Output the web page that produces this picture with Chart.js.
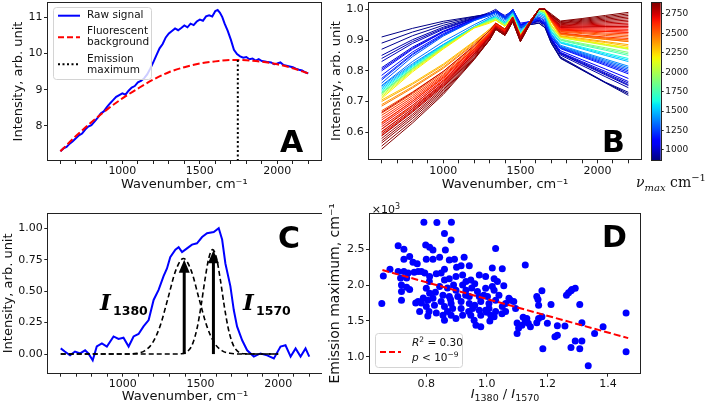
<!DOCTYPE html>
<html>
<head>
<meta charset="utf-8">
<script src="https://cdn.jsdelivr.net/npm/chart.js@4.4.1/dist/chart.umd.min.js"></script>
<style>
  html, body { margin: 0; padding: 0; background: #fff; }
  #wrap { position: relative; width: 708px; height: 407px; overflow: hidden; }
  canvas { position: absolute; }
  #cbLabel { position: absolute; left: 636px; top: 172px; font-family: "DejaVu Serif", serif; font-size: 14px; color: #111; white-space: nowrap; }
  #cbLabel sub { font-size: 10px; }
  #cbLabel sup { font-size: 10px; }
</style>
</head>
<body>
<div id="wrap">
  <canvas id="chartA" width="322" height="200" style="left:0;top:0"></canvas>
  <canvas id="chartB" width="322" height="200" style="left:322px;top:0"></canvas>
  <canvas id="chartCb" width="64" height="200" style="left:644px;top:0"></canvas>
  <canvas id="chartC" width="322" height="207" style="left:0;top:200px"></canvas>
  <canvas id="chartD" width="322" height="207" style="left:322px;top:200px"></canvas>
  <div id="cbLabel"><i>ν<sub>max</sub></i> cm<sup>−1</sup></div>
</div>
<script>
// ---- shared ticks
const wnTicks = [600, 700, 800, 900, 1000, 1100, 1200, 1300, 1400, 1500, 1600, 1700, 1800, 1900, 2000, 2100, 2200]
const wnLabels = [1000, 1500, 2000]

// ---- panel A: raw signal, fluorescent background, emission maximum
const aWn = [600, 620, 640, 660, 680, 700, 720, 740, 760, 780, 800, 820, 840, 860, 880, 900, 920, 940, 960, 980,
  1000, 1020, 1040, 1060, 1080, 1100, 1120, 1140, 1160, 1180, 1200, 1220, 1240, 1260, 1280, 1300, 1320, 1340, 1360, 1380,
  1400, 1420, 1440, 1460, 1480, 1500, 1520, 1540, 1560, 1580, 1600, 1615, 1630, 1645, 1660, 1680, 1700, 1720, 1740, 1760,
  1780, 1800, 1820, 1840, 1860, 1880, 1900, 1920, 1940, 1960, 1980, 2000, 2020, 2040, 2060, 2080, 2100, 2120, 2140, 2160, 2180, 2200]
const aRaw = [7.30, 7.38, 7.42, 7.51, 7.58, 7.66, 7.74, 7.79, 7.90, 7.98, 8.02, 8.12, 8.22, 8.34, 8.40, 8.52, 8.62, 8.71, 8.80, 8.85,
  8.90, 8.86, 8.97, 9.06, 9.10, 9.20, 9.24, 9.31, 9.42, 9.58, 9.76, 9.95, 10.14, 10.26, 10.44, 10.55, 10.62, 10.69, 10.64, 10.70,
  10.77, 10.72, 10.82, 10.78, 10.88, 10.93, 10.90, 11.02, 11.05, 11.02, 11.17, 11.20, 11.12, 11.00, 10.82, 10.62, 10.38, 10.10, 9.98, 9.92,
  9.88, 9.90, 9.84, 9.86, 9.80, 9.84, 9.79, 9.78, 9.76, 9.75, 9.70, 9.72, 9.75, 9.68, 9.66, 9.64, 9.62, 9.58, 9.55, 9.53, 9.48, 9.45]
const aBgWn = [600, 700, 800, 900, 1000, 1100, 1200, 1300, 1400, 1500, 1600, 1700, 1750, 1800, 1900, 2000, 2100, 2200]
const aBg = [7.30, 7.72, 8.10, 8.45, 8.76, 9.03, 9.28, 9.48, 9.62, 9.72, 9.78, 9.82, 9.82, 9.81, 9.77, 9.70, 9.59, 9.45]
const aPeakWn = [1745, 1745]
const aPeakVal = [9.82, 7.0]
const aYTicks = [8, 9, 10, 11]

// ---- panel B: normalised spectra coloured by emission maximum
const bWn = [600, 800, 1000, 1200, 1300, 1340, 1400, 1450, 1500, 1560, 1620, 1660, 1700, 1760, 1900, 2050, 2200]
const bNuMax = [880, 900, 940, 980, 1020, 1080, 1150, 1220, 1300,
  1400, 1500, 1620, 1750, 1900, 2050, 2200,
  2350, 2450, 2520, 2580, 2640, 2700, 2750, 2800, 2840, 2870, 2890, 2600, 2480, 2780,
  890, 960, 1050, 1180, 1350, 1560, 1820, 2120,
  2300, 2400, 2550, 2620, 2680, 2730, 2770, 2820, 2860, 2880, 2500, 2650]
const bCurves = [
  [.91, .938, .961, .977, .985, .99, .97, 1.0, .945, .95, .955, .94, .89, .84, .802, .761, .72],
  [.87, .914, .948, .974, .985, .995, .975, .995, .94, .955, .96, .945, .895, .845, .805, .763, .73],
  [.85, .901, .942, .972, .99, 1.0, .975, .99, .95, .95, .965, .955, .90, .851, .817, .781, .745],
  [.83, .889, .935, .970, .985, .99, .97, 1.0, .945, .96, .97, .95, .90, .858, .827, .793, .76],
  [.81, .877, .929, .968, .985, .995, .98, .995, .95, .955, .96, .95, .905, .856, .824, .79, .755],
  [.80, .870, .926, .967, .985, .99, .975, 1.0, .955, .96, .97, .955, .905, .865, .836, .806, .775],
  [.785, .861, .921, .965, .98, .99, .97, .995, .95, .96, .975, .96, .91, .872, .846, .818, .79],
  [.77, .852, .916, .964, .985, .995, .975, 1.0, .945, .955, .97, .955, .91, .876, .852, .826, .80],
  [.76, .846, .913, .963, .98, .99, .97, .995, .94, .96, .975, .965, .915, .878, .855, .83, .805],
  [.75, .823, .886, .944, .97, .98, .96, .99, .93, .96, .985, .975, .92, .883, .861, .838, .815],
  [.745, .819, .885, .943, .97, .975, .955, .985, .925, .955, .99, .98, .925, .89, .871, .85, .83],
  [.735, .813, .881, .942, .965, .975, .955, .985, .925, .96, .99, .98, .93, .894, .877, .858, .84],
  [.73, .809, .879, .941, .965, .97, .95, .98, .92, .96, .995, .985, .935, .899, .883, .867, .85],
  [.725, .806, .877, .941, .96, .97, .95, .98, .92, .955, .995, .99, .94, .903, .889, .875, .86],
  [.72, .803, .875, .94, .96, .965, .945, .975, .915, .96, 1.0, .99, .945, .908, .896, .883, .87],
  [.71, .796, .871, .939, .955, .965, .945, .975, .915, .96, 1.0, .995, .95, .91, .899, .887, .875],
  [.70, .756, .818, .893, .935, .955, .935, .975, .915, .96, 1.0, 1.0, .96, .914, .905, .895, .885],
  [.685, .744, .808, .886, .93, .955, .935, .975, .91, .96, 1.0, 1.0, .965, .921, .914, .907, .90],
  [.67, .731, .798, .879, .925, .95, .93, .97, .915, .955, 1.0, 1.0, .965, .926, .921, .915, .91],
  [.655, .719, .788, .872, .92, .95, .93, .975, .91, .96, 1.0, 1.0, .97, .93, .927, .923, .92],
  [.64, .707, .78, .87, .92, .95, .93, .97, .91, .955, 1.0, 1.0, .97, .935, .933, .932, .93],
  [.625, .695, .77, .863, .915, .945, .925, .97, .905, .955, 1.0, 1.0, .97, .939, .939, .94, .94],
  [.61, .682, .76, .856, .91, .945, .925, .97, .905, .96, 1.0, 1.0, .975, .944, .946, .948, .95],
  [.595, .671, .753, .853, .91, .94, .92, .965, .90, .955, 1.0, 1.0, .975, .948, .952, .956, .96],
  [.58, .658, .743, .847, .905, .94, .92, .965, .90, .955, 1.0, 1.0, .98, .953, .958, .964, .97],
  [.565, .645, .733, .84, .90, .935, .915, .96, .895, .95, 1.0, 1.0, .98, .957, .964, .972, .98],
  [.545, .63, .723, .836, .90, .935, .915, .96, .895, .95, 1.0, 1.0, .985, .962, .97, .98, .99],
  [.60, .677, .76, .862, .92, .95, .93, .97, .91, .96, 1.0, 1.0, .965, .923, .916, .91, .905],
  [.63, .701, .778, .872, .925, .955, .935, .975, .915, .96, 1.0, 1.0, .965, .919, .911, .903, .895],
  [.665, .729, .798, .882, .93, .955, .935, .975, .91, .96, 1.0, 1.0, .975, .941, .942, .944, .945],
  [.89, .926, .955, .976, .985, .995, .97, .995, .94, .95, .955, .94, .89, .842, .803, .762, .725],
  [.84, .895, .938, .971, .985, .99, .975, 1.0, .95, .955, .965, .95, .90, .855, .822, .787, .752],
  [.805, .873, .927, .967, .985, .99, .975, .995, .95, .96, .965, .95, .905, .86, .83, .798, .765],
  [.775, .855, .918, .964, .985, .99, .97, 1.0, .945, .955, .97, .955, .91, .874, .849, .822, .795],
  [.752, .83, .895, .95, .975, .985, .965, .99, .935, .96, .98, .97, .918, .88, .858, .834, .81],
  [.74, .816, .883, .942, .968, .975, .955, .985, .925, .958, .99, .98, .928, .892, .874, .854, .835],
  [.727, .807, .878, .941, .962, .97, .95, .98, .92, .958, .995, .988, .938, .901, .886, .871, .855],
  [.715, .80, .873, .94, .958, .965, .945, .975, .915, .96, 1.0, .992, .948, .909, .897, .885, .872],
  [.705, .76, .822, .896, .935, .955, .935, .975, .915, .96, 1.0, 1.0, .96, .912, .902, .892, .88],
  [.69, .748, .812, .889, .93, .955, .935, .975, .91, .96, 1.0, 1.0, .962, .918, .91, .902, .895],
  [.662, .725, .793, .876, .922, .95, .93, .972, .912, .958, 1.0, 1.0, .967, .928, .924, .919, .915],
  [.647, .713, .784, .871, .92, .95, .93, .972, .91, .958, 1.0, 1.0, .97, .932, .93, .928, .925],
  [.632, .701, .775, .866, .918, .948, .928, .97, .908, .955, 1.0, 1.0, .97, .937, .936, .936, .935],
  [.618, .688, .765, .86, .912, .945, .925, .97, .905, .958, 1.0, 1.0, .972, .942, .943, .944, .945],
  [.602, .676, .756, .855, .91, .942, .922, .968, .902, .955, 1.0, 1.0, .975, .946, .949, .952, .955],
  [.588, .665, .748, .85, .908, .94, .92, .965, .90, .955, 1.0, 1.0, .978, .95, .955, .96, .965],
  [.572, .652, .738, .843, .902, .938, .918, .962, .898, .952, 1.0, 1.0, .98, .955, .961, .968, .975],
  [.555, .637, .728, .838, .90, .935, .915, .96, .895, .95, 1.0, 1.0, .982, .96, .967, .976, .985],
  [.61, .687, .768, .866, .922, .952, .932, .972, .912, .96, 1.0, 1.0, .965, .921, .913, .906, .90],
  [.59, .668, .752, .856, .915, .948, .928, .97, .908, .958, 1.0, 1.0, .97, .933, .93, .928, .925]
]
const bYTicks = [0.6, 0.7, 0.8, 0.9, 1.0]
const cbTicks = [1000, 1250, 1500, 1750, 2000, 2250, 2500, 2750]
const cbMin = 870, cbMax = 2895

// ---- panel C: background-subtracted signal and two gaussian bands
const cWn = [600, 626, 660, 692, 725, 757, 778, 806, 832, 865, 897, 940, 972, 1004, 1037, 1069, 1101, 1133, 1166, 1198,
  1230, 1262, 1284, 1305, 1338, 1359, 1381, 1413, 1445, 1477, 1510, 1542, 1585, 1617, 1639, 1660, 1692, 1714, 1735, 1768,
  1800, 1843, 1886, 1929, 1972, 2015, 2047, 2080, 2112, 2144, 2176, 2200]
const cSig = [0.045, 0.02, -0.01, 0.02, 0.005, 0.03, 0.005, -0.05, 0.06, 0.085, 0.06, 0.14, 0.12, 0.13, 0.06, 0.14, 0.16, 0.22, 0.27, 0.43,
  0.51, 0.62, 0.68, 0.77, 0.83, 0.85, 0.81, 0.84, 0.87, 0.88, 0.93, 0.96, 0.97, 1.00, 0.91, 0.72, 0.54, 0.35, 0.22, 0.11,
  0.03, -0.02, 0.005, -0.01, -0.035, 0.06, 0.07, -0.02, 0.045, -0.02, 0.045, -0.02]
const cG1Wn = [600, 1000, 1090, 1140, 1190, 1240, 1290, 1340, 1390, 1440, 1490, 1540, 1590, 1640, 1690, 1790, 2000]
const cG1 = [0, 0, 0.006, 0.026, 0.087, 0.224, 0.442, 0.663, 0.76, 0.663, 0.442, 0.224, 0.087, 0.026, 0.006, 0, 0]
const cG2Wn = [600, 1300, 1378, 1428, 1453, 1478, 1503, 1528, 1553, 1578, 1603, 1628, 1653, 1678, 1703, 1728, 1778, 2000]
const cG2 = [0, 0, 0.003, 0.036, 0.095, 0.207, 0.380, 0.587, 0.761, 0.83, 0.761, 0.587, 0.380, 0.207, 0.095, 0.036, 0.003, 0]
const cArrowWn = [1395, 1583]
const cArrowTop = [0.75, 0.825]
const cYTicks = [0, 0.25, 0.5, 0.75, 1.0]

// ---- panel D: emission maximum vs band ratio
const dRatio = [
  0.653, 0.658, 0.707, 0.726, 0.745, 0.726, 0.756, 0.792, 0.835, 0.883,
  0.860, 0.882, 0.863, 0.798, 0.811, 0.822, 0.800, 0.822, 0.844, 0.876,
  0.893, 0.925, 0.915, 0.942, 1.029, 1.127, 1.051, 1.018, 0.680, 0.707,
  0.726, 0.740, 0.735, 0.715, 0.773, 0.784, 0.795, 0.811, 0.833, 0.849,
  0.860, 0.876, 0.898, 0.920, 0.931, 0.947, 0.975, 0.996, 1.024, 1.018,
  1.035, 1.056, 0.718, 0.718, 0.735, 0.745, 0.718, 0.773, 0.765, 0.784,
  0.778, 0.800, 0.811, 0.805, 0.800, 0.809, 0.805, 0.822, 0.827, 0.833,
  0.844, 0.855, 0.849, 0.860, 0.855, 0.860, 0.876, 0.882, 0.887, 0.882,
  0.898, 0.898, 0.904, 0.915, 0.915, 0.920, 0.931, 0.942, 0.942, 0.953,
  0.947, 0.958, 0.964, 0.969, 0.975, 0.980, 0.975, 0.980, 0.980, 0.996,
  1.002, 1.007, 0.996, 1.013, 1.007, 1.024, 1.029, 1.040, 1.029, 1.024,
  1.051, 1.062, 1.073, 1.078, 1.089, 1.095, 1.062, 1.105, 1.100, 1.116,
  1.127, 1.137, 1.132, 1.144, 1.165, 1.171, 1.165, 1.169, 1.171, 1.182,
  1.182, 1.200, 1.212, 1.233, 1.225, 1.233, 1.185, 1.258, 1.263, 1.270,
  1.278, 1.281, 1.292, 1.278, 1.292, 1.314, 1.307, 1.307, 1.314, 1.335,
  1.356, 1.384, 1.460, 1.460,
  0.870, 0.890, 0.950, 0.920, 0.960, 0.940, 0.990, 1.010, 0.870, 0.830,
  0.790, 0.810, 0.860, 0.900, 0.960, 0.770, 0.760, 0.880, 0.930, 1.000,
  1.050, 1.100, 1.120]
const dEmission = [
  1745, 2127, 2551, 2500, 2400, 2360, 2320, 2877, 2873, 2877,
  2720, 2630, 2490, 2560, 2530, 2490, 2360, 2360, 2390, 2350,
  2360, 2390, 2270, 2270, 2510, 2280, 2230, 2240, 2220, 2190,
  2190, 2170, 2100, 2100, 2190, 2190, 2170, 2120, 2160, 2170,
  2070, 2090, 2120, 2140, 2050, 2070, 2140, 2120, 2090, 1980,
  2050, 1990, 2000, 1910, 1970, 1940, 1790, 1770, 1750, 1750,
  1630, 1955, 1885, 1790, 1700, 1630, 1570, 1815, 1720, 1610,
  1980, 1860, 1770, 1700, 1580, 1510, 1840, 1745, 1675, 1580,
  1535, 1930, 1840, 1770, 1675, 1580, 1930, 1840, 1745, 1675,
  1580, 1510, 1440, 1910, 1840, 1770, 1650, 1580, 1420, 1955,
  1840, 1745, 1650, 1580, 1675, 1930, 1790, 1860, 1630, 1560,
  1700, 1745, 1815, 1790, 1770, 1675, 1630, 1400, 1326, 1440,
  1490, 1466, 1535, 1420, 1476, 1535, 1840, 1800, 1720, 1920,
  1560, 1466, 1730, 1433, 1280, 1300, 1110, 1430, 1860, 1895,
  1920, 1940, 1955, 1130, 1220, 1476, 1730, 1110, 1220, 875,
  1326, 1420, 1610, 1070,
  1960, 2000, 1960, 2000, 1720, 1630, 1860, 1500, 1630, 1900,
  1820, 2050, 2220, 2250, 2020, 2300, 2180, 1800, 1860, 1620,
  1600, 1470, 1550]
const dFitRatio = [0.655, 1.467]
const dFit = [2210, 1260]
const dXTicks = [0.8, 1.0, 1.2, 1.4]
const dYTicks = [1000, 1500, 2000, 2500]

Chart.defaults.font.family = '"DejaVu Sans", sans-serif'
Chart.defaults.font.size = 11
Chart.defaults.color = '#111'
Chart.defaults.animation = false
Chart.defaults.responsive = false
Chart.defaults.plugins.legend.display = false
Chart.defaults.plugins.tooltip.enabled = false

const pts = (xs, ys) => xs.map((x, i) => ({ x, y: ys[i] }))

// matplotlib "jet"
function jet(t) {
  t = Math.min(1, Math.max(0, t))
  const seg = p => {
    for (let i = 1; i < p.length; i++) {
      if (t <= p[i][0]) return p[i - 1][1] + (p[i][1] - p[i - 1][1]) * (t - p[i - 1][0]) / (p[i][0] - p[i - 1][0])
    }
    return p[p.length - 1][1]
  }
  const r = seg([[0, 0], [0.35, 0], [0.66, 1], [0.89, 1], [1, 0.5]])
  const g = seg([[0, 0], [0.125, 0], [0.375, 1], [0.64, 1], [0.91, 0], [1, 0]])
  const b = seg([[0, 0.5], [0.11, 1], [0.34, 1], [0.65, 0], [1, 0]])
  return `rgb(${Math.round(r * 255)},${Math.round(g * 255)},${Math.round(b * 255)})`
}

function axis(o) {
  return {
    type: 'linear', min: o.min, max: o.max, position: o.position,
    afterBuildTicks: s => { s.ticks = o.ticks.map(v => ({ value: v })) },
    afterFit: s => {
      if (s.isHorizontal()) s.height = o.size; else s.width = o.size
      s.paddingLeft = s.paddingRight = s.paddingTop = s.paddingBottom = 0
    },
    ticks: { autoSkip: false, maxRotation: 0, padding: o.pad ?? 2, font: { size: o.fontSize || 11 }, color: '#111', callback: o.fmt },
    grid: { drawOnChartArea: false, drawTicks: true, tickLength: o.tickLength || 4, tickColor: '#222', lineWidth: 1 },
    border: { display: false },
    title: o.title ? { display: true, text: o.title, font: { size: o.titleSize || 13 }, color: '#111', padding: o.titlePad } : { display: false }
  }
}
const wnFmt = v => wnLabels.includes(v) ? String(v) : ''

const frame = {
  id: 'frame',
  afterDraw(chart) {
    const { ctx, chartArea: a } = chart
    ctx.save()
    ctx.strokeStyle = '#222'
    ctx.lineWidth = 1
    const l = Math.round(a.left) - 0.5, t = Math.round(a.top) - 0.5
    ctx.strokeRect(l, t, Math.round(a.right) - Math.round(a.left) + 1, Math.round(a.bottom) - Math.round(a.top) + 1)
    ctx.restore()
  }
}
function letter(txt, x, y) {
  return {
    id: 'letter' + txt,
    afterDraw(chart) {
      const ctx = chart.ctx
      ctx.save()
      ctx.font = 'bold 30px "DejaVu Sans"'
      ctx.fillStyle = '#000'
      ctx.textBaseline = 'alphabetic'
      ctx.fillText(txt, x, y)
      ctx.restore()
    }
  }
}
function legendBox(ctx, x, y, w, h) {
  ctx.beginPath()
  ctx.roundRect(x, y, w, h, 3)
  ctx.fillStyle = 'rgba(255,255,255,0.8)'
  ctx.fill()
  ctx.strokeStyle = '#d4d4d4'
  ctx.lineWidth = 1
  ctx.stroke()
}
function sample(ctx, x0, x1, y, color, dash, width) {
  ctx.beginPath()
  ctx.setLineDash(dash)
  ctx.strokeStyle = color
  ctx.lineWidth = width
  ctx.moveTo(x0, y)
  ctx.lineTo(x1, y)
  ctx.stroke()
  ctx.setLineDash([])
}

const legendA = {
  id: 'legendA',
  afterDraw(chart) {
    const ctx = chart.ctx
    ctx.save()
    legendBox(ctx, 53.5, 7.5, 98, 72)
    sample(ctx, 58, 80, 15.7, '#0000ff', [], 2)
    sample(ctx, 58, 80, 37.3, '#ff0000', [6, 3], 2)
    sample(ctx, 58, 80, 64.3, '#000', [2, 2.5], 2)
    ctx.font = '10.5px "DejaVu Sans"'
    ctx.fillStyle = '#111'
    ctx.textBaseline = 'middle'
    ctx.fillText('Raw signal', 87, 15.7)
    ctx.fillText('Fluorescent', 87, 31.7)
    ctx.fillText('background', 87, 42.7)
    ctx.fillText('Emission', 87, 59)
    ctx.fillText('maximum', 87, 70)
    ctx.restore()
  }
}

new Chart(document.getElementById('chartA'), {
  type: 'line',
  data: { datasets: [
    { data: pts(aWn, aRaw), borderColor: '#0000ff', borderWidth: 2, pointRadius: 0, order: 3 },
    { data: pts(aBgWn, aBg), borderColor: '#ff0000', borderWidth: 2, borderDash: [7, 3], pointRadius: 0, cubicInterpolationMode: 'monotone', order: 2 },
    { data: pts(aPeakWn, aPeakVal), borderColor: '#000', borderWidth: 2, borderDash: [2, 2.5], pointRadius: 0, order: 1 }
  ] },
  options: {
    layout: { padding: { top: 3, right: 1.3, left: 0, bottom: 0 } },
    scales: {
      x: axis({ position: 'bottom', min: 520, max: 2280, ticks: wnTicks, fmt: wnFmt, size: 40, pad: 1, title: 'Wavenumber, cm⁻¹', titlePad: { bottom: 7.5 } }),
      y: axis({ position: 'left', min: 7.06, max: 11.39, ticks: aYTicks, fmt: v => String(v), size: 48, pad: 1.5, title: 'Intensity, arb. unit', titlePad: { top: 10.8 } })
    }
  },
  plugins: [frame, legendA, letter('A', 280, 152)]
})

new Chart(document.getElementById('chartB'), {
  type: 'line',
  data: { datasets: bCurves.map((vals, i) => ({
    data: pts(bWn, vals), borderColor: jet((bNuMax[i] - cbMin) / (cbMax - cbMin)), borderWidth: 1, pointRadius: 0, order: -bNuMax[i]
  })) },
  options: {
    layout: { padding: { top: 2.7, right: 3.3, left: 0, bottom: 0 } },
    scales: {
      x: axis({ position: 'bottom', min: 520, max: 2280, ticks: wnTicks, fmt: wnFmt, size: 40.7, pad: 1, title: 'Wavenumber, cm⁻¹', titlePad: { bottom: 7.5 } }),
      y: axis({ position: 'left', min: 0.512, max: 1.0215, ticks: bYTicks, fmt: v => v.toFixed(1), size: 47.3, pad: 1.5, title: 'Intensity, arb. unit', titlePad: { top: 6.5 } })
    }
  },
  plugins: [frame, letter('B', 280, 152)]
})

const colorbarFill = {
  id: 'colorbarFill',
  beforeDatasetsDraw(chart) {
    const { ctx, chartArea: a } = chart
    const g = ctx.createLinearGradient(0, a.bottom, 0, a.top)
    for (let k = 0; k <= 40; k++) g.addColorStop(k / 40, jet(k / 40))
    ctx.save()
    ctx.fillStyle = g
    ctx.fillRect(a.left, a.top, a.right - a.left, a.bottom - a.top)
    ctx.restore()
  }
}
new Chart(document.getElementById('chartCb'), {
  type: 'line',
  data: { datasets: [] },
  options: {
    layout: { padding: { left: 7.7, top: 2.7, bottom: 40, right: 0 } },
    scales: {
      x: { display: false },
      y: axis({ position: 'right', min: cbMin, max: cbMax, ticks: cbTicks, fmt: v => String(v), size: 47.3, fontSize: 9, tickLength: 3, pad: 1.5 })
    }
  },
  plugins: [colorbarFill, frame]
})

const arrowsC = {
  id: 'arrowsC',
  afterDatasetsDraw(chart) {
    const { ctx, scales: { x, y } } = chart
    ctx.save()
    ctx.fillStyle = '#000'
    ctx.strokeStyle = '#000'
    cArrowWn.forEach((wn, i) => {
      const px = x.getPixelForValue(wn)
      const y0 = y.getPixelForValue(0)
      const y1 = y.getPixelForValue(cArrowTop[i])
      ctx.lineWidth = 3
      ctx.beginPath()
      ctx.moveTo(px, y0)
      ctx.lineTo(px, y1 + 10)
      ctx.stroke()
      ctx.beginPath()
      ctx.moveTo(px, y1)
      ctx.lineTo(px - 5.5, y1 + 13)
      ctx.lineTo(px + 5.5, y1 + 13)
      ctx.closePath()
      ctx.fill()
    })
    ctx.restore()
  }
}
const labelsC = {
  id: 'labelsC',
  afterDraw(chart) {
    const ctx = chart.ctx
    ctx.save()
    ctx.fillStyle = '#000'
    ctx.textBaseline = 'alphabetic'
    ;[[100, '1380'], [243, '1570']].forEach(([x, sub]) => {
      ctx.font = 'italic bold 23px "DejaVu Serif"'
      ctx.fillText('I', x, 110)
      ctx.font = 'bold 12.5px "DejaVu Sans"'
      ctx.fillText(sub, x + 13, 115)
    })
    ctx.restore()
  }
}
new Chart(document.getElementById('chartC'), {
  type: 'line',
  data: { datasets: [
    { data: pts(cWn, cSig), borderColor: '#0000ff', borderWidth: 2, pointRadius: 0, order: 3 },
    { data: pts(cG1Wn, cG1), borderColor: '#000', borderWidth: 1.6, borderDash: [5, 3], pointRadius: 0, cubicInterpolationMode: 'monotone', order: 2 },
    { data: pts(cG2Wn, cG2), borderColor: '#000', borderWidth: 1.6, borderDash: [5, 3], pointRadius: 0, cubicInterpolationMode: 'monotone', order: 1 }
  ] },
  options: {
    layout: { padding: { top: 14, right: 0.3, left: 0, bottom: 0 } },
    scales: {
      x: axis({ position: 'bottom', min: 520, max: 2280, ticks: wnTicks, fmt: wnFmt, size: 34.3, pad: 1, title: 'Wavenumber, cm⁻¹', titlePad: { bottom: 2.5 } }),
      y: axis({ position: 'left', min: -0.148, max: 1.113, ticks: cYTicks, fmt: v => v.toFixed(2), size: 48.3, pad: 1.5, title: 'Intensity, arb. unit', titlePad: { top: 0.8 } })
    }
  },
  plugins: [frame, arrowsC, labelsC, letter('C', 278, 48.3)]
})

const extrasD = {
  id: 'extrasD',
  afterDraw(chart) {
    const ctx = chart.ctx
    ctx.save()
    // legend
    legendBox(ctx, 53.5, 133.5, 87, 34)
    sample(ctx, 58, 79, 152, '#ff0000', [6, 3], 2)
    ctx.fillStyle = '#111'
    ctx.textBaseline = 'alphabetic'
    const run = (parts, x, y) => {
      parts.forEach(([t, font, dy]) => {
        ctx.font = font
        ctx.fillText(t, x, y + (dy || 0))
        x += ctx.measureText(t).width
      })
      return x
    }
    const it = 'italic 10.5px "DejaVu Sans"', rm = '10.5px "DejaVu Sans"', sm = '7.5px "DejaVu Sans"'
    run([['R', it], ['2', sm, -4], [' = 0.30', rm]], 90, 146)
    run([['p', it], [' < 10', rm], ['−9', sm, -4]], 90, 161)
    // offset text
    run([['×10', '11px "DejaVu Sans"'], ['3', '8px "DejaVu Sans"', -4]], 49.7, 13)
    // x title
    const parts = [['I', 'italic 13px "DejaVu Sans"'], ['1380', '9.5px "DejaVu Sans"', 3], [' / ', '13px "DejaVu Sans"'],
      ['I', 'italic 13px "DejaVu Sans"'], ['1570', '9.5px "DejaVu Sans"', 3]]
    let w = 0
    parts.forEach(([t, font]) => { ctx.font = font; w += ctx.measureText(t).width })
    run(parts, 183 - w / 2, 198)
    ctx.restore()
  }
}
new Chart(document.getElementById('chartD'), {
  type: 'scatter',
  data: { datasets: [
    { data: pts(dRatio, dEmission), backgroundColor: '#0000ff', borderWidth: 0, pointRadius: 3.5, order: 2 },
    { type: 'line', data: pts(dFitRatio, dFit), borderColor: '#ff0000', borderWidth: 2, borderDash: [7, 3], pointRadius: 0, order: 1 }
  ] },
  options: {
    layout: { padding: { top: 14, right: 2.3, left: 0, bottom: 0 } },
    scales: {
      x: axis({ position: 'bottom', min: 0.614, max: 1.506, ticks: dXTicks, fmt: v => v.toFixed(1), size: 34.3, pad: 1 }),
      y: axis({ position: 'left', min: 777, max: 2993, ticks: dYTicks, fmt: v => (v / 1000).toFixed(1), size: 48, pad: 1.5, title: 'Emission maximum, cm⁻¹', titleSize: 14, titlePad: { top: 5 } })
    }
  },
  plugins: [frame, extrasD, letter('D', 280, 46.7)]
})
</script>
</body>
</html>
